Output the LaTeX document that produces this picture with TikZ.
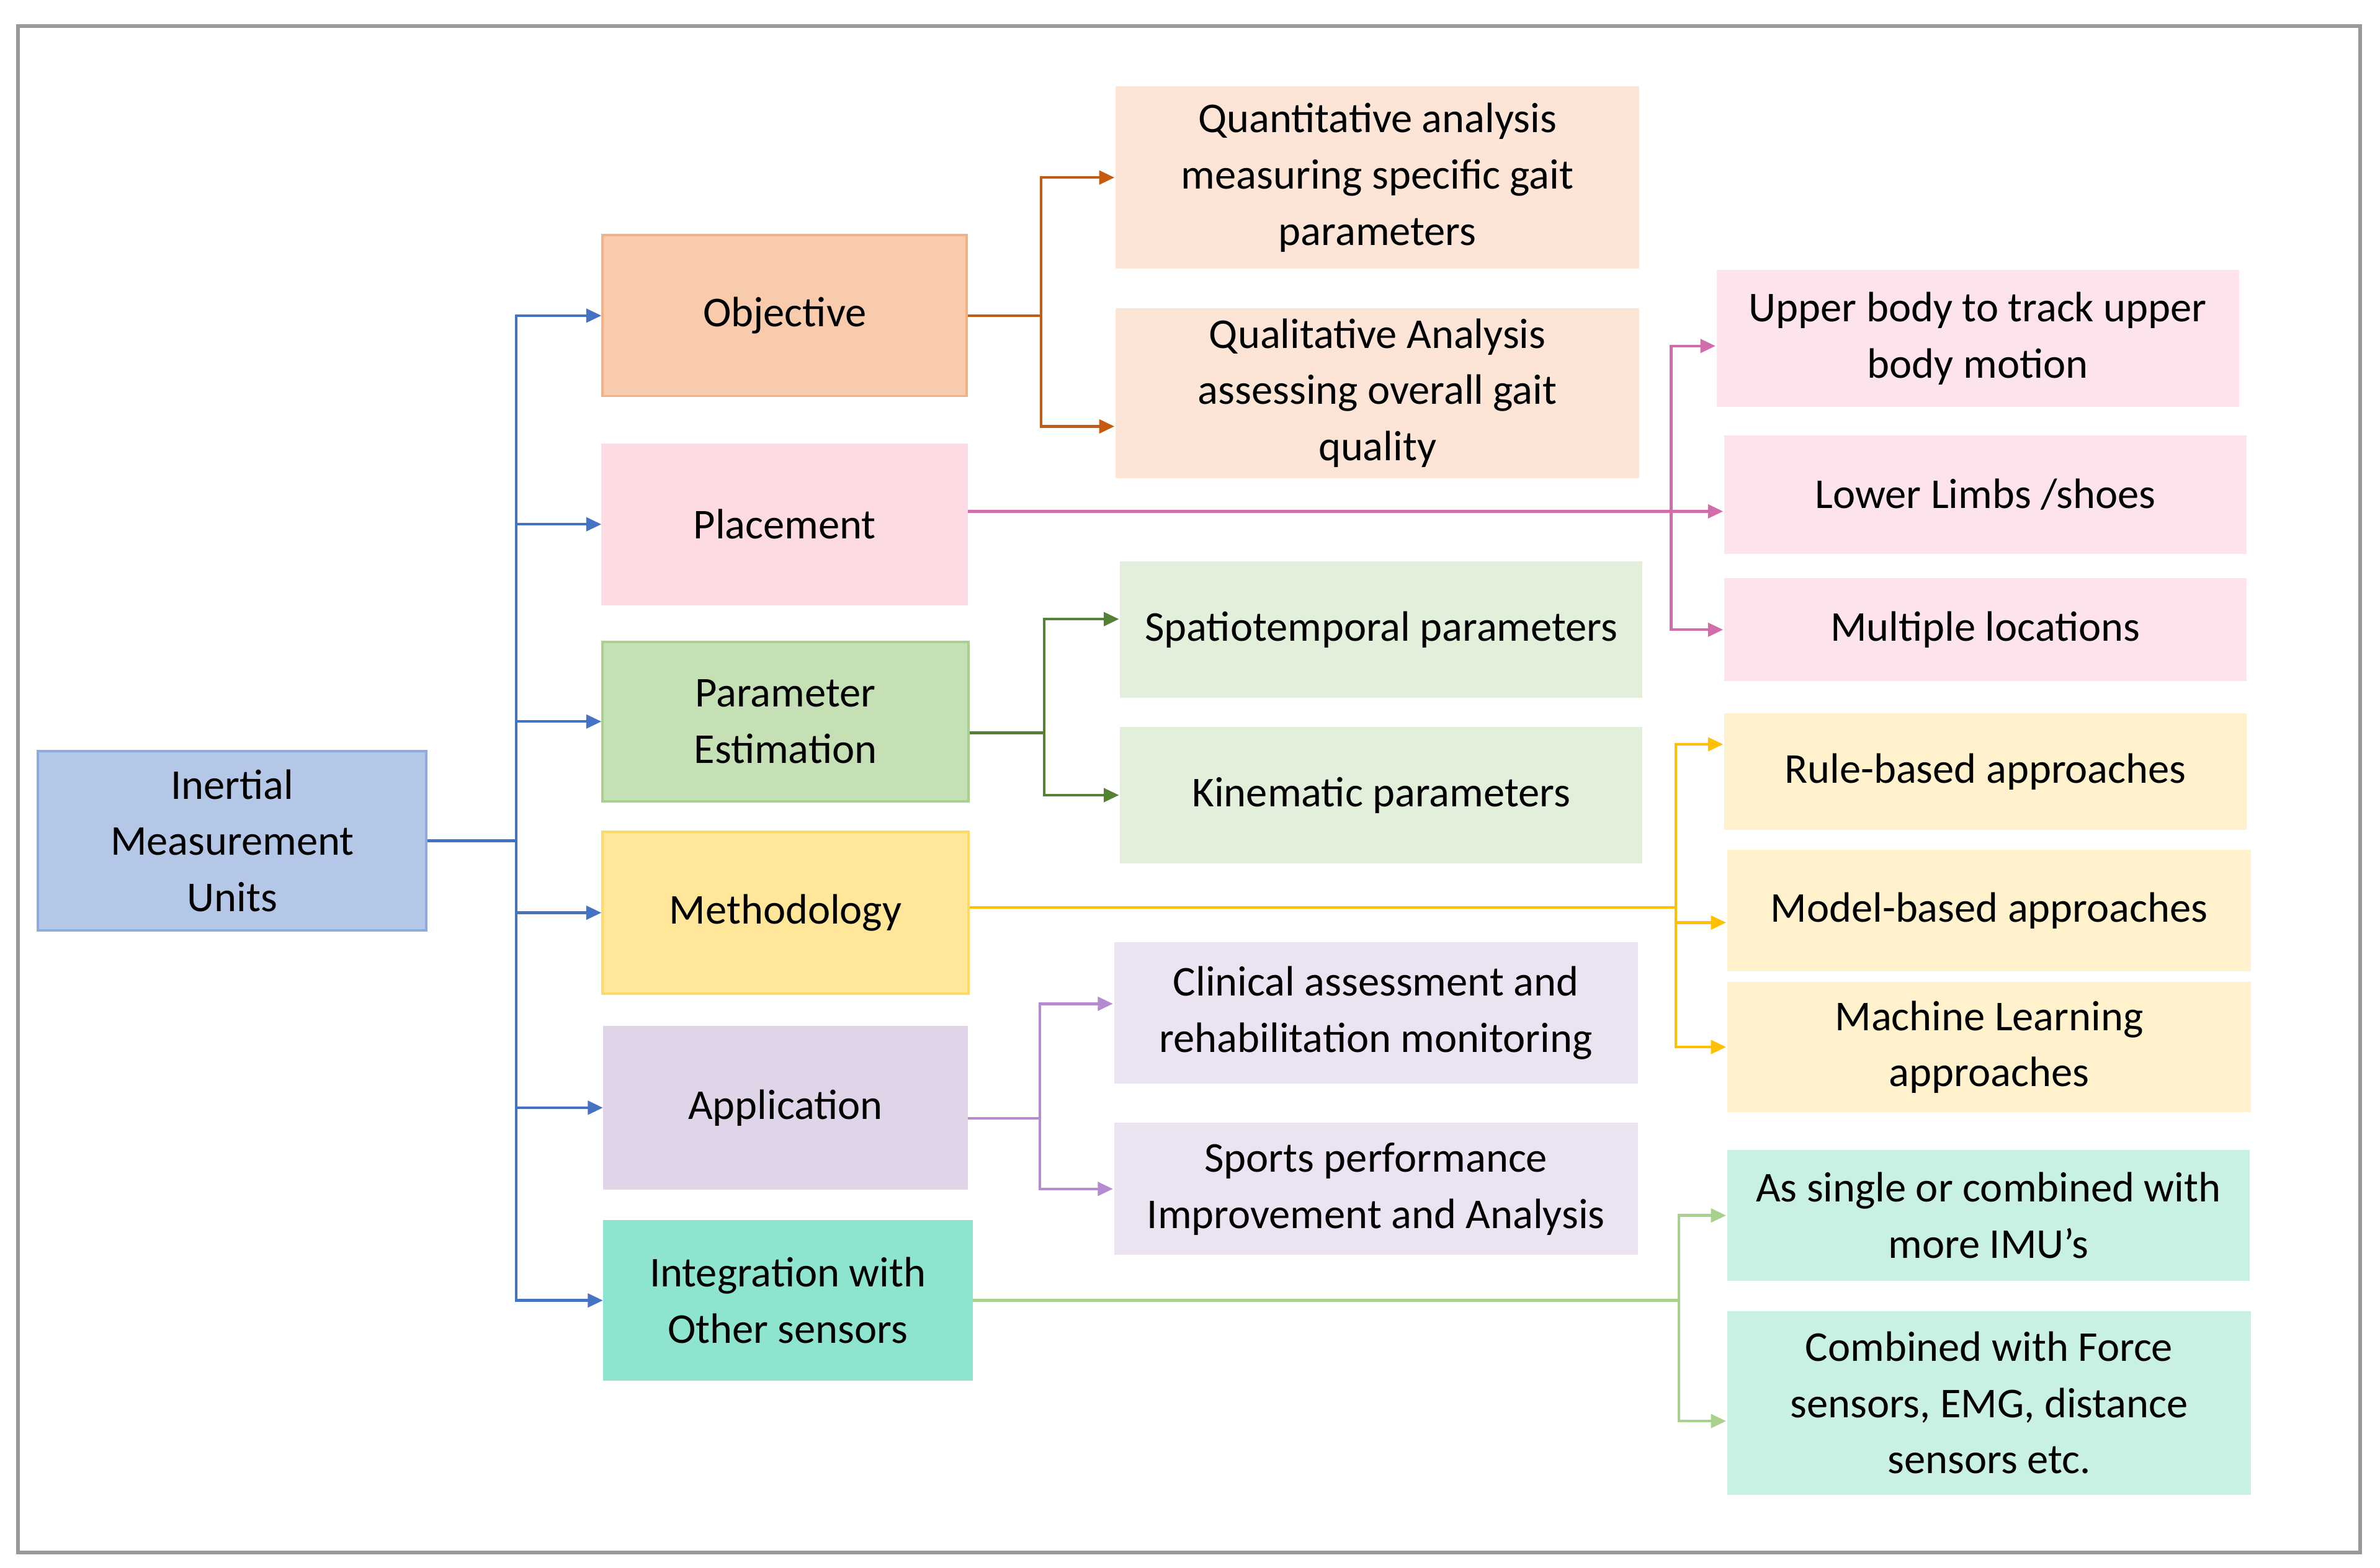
\documentclass[tikz,border=0pt]{standalone}
\usepackage{fontspec}
\setmainfont{Carlito}
\usetikzlibrary{arrows.meta}
\begin{document}
\begin{tikzpicture}[x=0.5pt,y=-0.5pt,
  box/.style={rectangle,inner sep=2pt,align=center,font=\fontsize{14}{18.5}\selectfont,line width=0.8pt},
  ln/.style={line width=0.9pt},
  ar/.style={line width=0.9pt,-{Triangle[length=5pt,width=4.5pt]}}]
\newcommand\bx[7]{\node[box,#6,minimum width={(#4-#2)*0.5pt},minimum height={(#5-#3)*0.5pt}] (#1) at ({(#2+#4)/2},{(#3+#5)/2}) {#7};}
\useasboundingbox (0,0) rectangle (1568,1033);
\fill[white] (0,0) rectangle (1568,1033);
\draw[gray!80,line width=1.2pt] (12,17) rectangle (1555,1023);
\definecolor{cB}{HTML}{4472C4}\definecolor{cO}{HTML}{C55A11}\definecolor{cP}{HTML}{D36DAA}
\definecolor{cG}{HTML}{548235}\definecolor{cY}{HTML}{FFC000}\definecolor{cV}{HTML}{B58BD0}\definecolor{cT}{HTML}{A9D18E}
\bx{imu}{25}{495}{281}{613}{fill={rgb,255:red,180;green,199;blue,231},draw={rgb,255:red,143;green,170;blue,220}}{Inertial\\Measurement\\Units}
\bx{obj}{397}{155}{637}{261}{fill={rgb,255:red,248;green,203;blue,173},draw={rgb,255:red,244;green,177;blue,131}}{Objective}
\bx{pla}{397}{293}{637}{398}{fill={rgb,255:red,252;green,219;blue,226},draw={rgb,255:red,252;green,219;blue,226}}{Placement}
\bx{par}{397}{423}{638}{528}{fill={rgb,255:red,197;green,224;blue,180},draw={rgb,255:red,169;green,209;blue,142}}{Parameter\\Estimation}
\bx{met}{397}{548}{638}{655}{fill={rgb,255:red,255;green,230;blue,153},draw={rgb,255:red,255;green,217;blue,102}}{Methodology}
\bx{app}{398}{677}{637}{783}{fill={rgb,255:red,224;green,213;blue,232},draw={rgb,255:red,224;green,213;blue,232}}{Application}
\bx{int}{398}{805}{640}{909}{fill={rgb,255:red,142;green,229;blue,207},draw={rgb,255:red,142;green,229;blue,207}}{Integration with\\Other sensors}
\bx{qn}{735}{57}{1080}{177}{fill={rgb,255:red,252;green,228;blue,214}}{Quantitative analysis\\measuring specific gait\\parameters}
\bx{ql}{735}{203}{1080}{315}{fill={rgb,255:red,252;green,228;blue,214}}{Qualitative Analysis\\assessing overall gait\\quality}
\bx{sp}{738}{370}{1082}{460}{fill={rgb,255:red,226;green,239;blue,218}}{Spatiotemporal parameters}
\bx{ki}{738}{479}{1082}{569}{fill={rgb,255:red,226;green,239;blue,218}}{Kinematic parameters}
\bx{cl}{734}{621}{1079}{714}{fill={rgb,255:red,235;green,227;blue,241}}{Clinical assessment and\\rehabilitation monitoring}
\bx{so}{734}{740}{1079}{827}{fill={rgb,255:red,235;green,227;blue,241}}{Sports performance\\Improvement and Analysis}
\bx{up}{1131}{178}{1475}{268}{fill={rgb,255:red,252;green,228;blue,234}}{Upper body to track upper\\body motion}
\bx{lo}{1136}{287}{1480}{365}{fill={rgb,255:red,252;green,228;blue,234}}{Lower Limbs /shoes}
\bx{mu}{1136}{381}{1480}{449}{fill={rgb,255:red,252;green,228;blue,234}}{Multiple locations}
\bx{ru}{1136}{470}{1480}{547}{fill={rgb,255:red,255;green,242;blue,204}}{Rule-based approaches}
\bx{mo}{1138}{560}{1483}{640}{fill={rgb,255:red,255;green,242;blue,204}}{Model-based approaches}
\bx{ml}{1138}{647}{1483}{733}{fill={rgb,255:red,255;green,242;blue,204}}{Machine Learning\\approaches}
\bx{si}{1138}{758}{1482}{844}{fill={rgb,255:red,201;green,240;blue,228}}{As single or combined with\\more IMU’s}
\bx{co}{1138}{864}{1483}{985}{fill={rgb,255:red,201;green,240;blue,228}}{Combined with Force\\sensors, EMG, distance\\sensors etc.}
% connectors
\coordinate (j0) at (340,554);
\draw[ln,cB] (imu.east) -- (j0);
\foreach \n in {obj,pla,par,met,app,int} \draw[ar,cB] (j0) |- (\n.west);
\coordinate (j1) at (686,208);
\draw[ln,cO] (obj.east) -- (j1);
\draw[ar,cO] (j1) |- (qn.west); \draw[ar,cO] (j1) |- ([yshift=-0.5pt*22]ql.west);
\coordinate (j2) at (1101,337);
\draw[ln,cP] (pla.east|-j2) -- (j2);
\draw[ar,cP] (j2) |- ([yshift=-0.5pt*5]up.west); \draw[ar,cP] (j2) -- (lo.west|-j2); \draw[ar,cP] (j2) |- (mu.west);
\coordinate (j3) at (688,483);
\draw[ln,cG] (par.east|-j3) -- (j3);
\draw[ar,cG] (j3) |- ([yshift=0.5pt*7]sp.west); \draw[ar,cG] (j3) |- (ki.west);
\coordinate (j4) at (1104,598);
\draw[ln,cY] (met.east|-j4) -- (j4);
\draw[ar,cY] (j4) |- ([yshift=0.5pt*18]ru.west); \draw[ar,cY] (j4) |- ([yshift=-0.5pt*8]mo.west); \draw[ar,cY] (j4) |- (ml.west);
\coordinate (j5) at (685,737);
\draw[ln,cV] (app.east|-j5) -- (j5);
\draw[ar,cV] (j5) |- ([yshift=0.5pt*6]cl.west); \draw[ar,cV] (j5) |- (so.west);
\coordinate (j6) at (1106,857);
\draw[ln,cT] (int.east|-j6) -- (j6);
\draw[ar,cT] (j6) |- (si.west); \draw[ar,cT] (j6) |- ([yshift=-0.5pt*12]co.west);
\end{tikzpicture}
\end{document}
